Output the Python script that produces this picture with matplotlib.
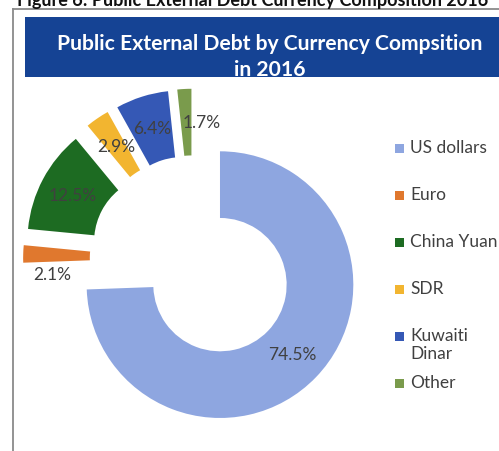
import numpy as np
import matplotlib
matplotlib.use("Agg")
import matplotlib.pyplot as plt
from matplotlib.patches import Rectangle
from matplotlib.lines import Line2D

# Currency composition of public external debt, 2016 (%)
currencies = ["US dollars", "Euro", "China Yuan", "SDR", "Kuwaiti\nDinar", "Other"]
shares = [74.5, 2.1, 12.5, 2.9, 6.4, 1.7]
share_labels = ["74.5%", "2.1%", "12.5%", "2.9%", "6.4%", "1.7%"]
colors = ["#8EA6E0", "#E0782E", "#1D6B22", "#F2B530", "#3558B5", "#7A9B4C"]

# small label nudges (data units, radius = 1)
label_nudge = [(0.0, 0.0), (-0.03, -0.14), (0.0, 0.0), (0.0, 0.0), (0.0, 0.0), (0.12, 0.0)]

W, H = 499, 452
fig = plt.figure(figsize=(W / 100, H / 100), dpi=100)
fig.patch.set_facecolor("white")

def px(x, y):
    return x / W, 1 - y / H

# caption above the chart box
fig.text(*px(17, 6), "Figure 6: Public External Debt Currency Composition 2016",
         fontsize=13, family="Lato", weight="bold", color="#111111",
         ha="left", va="baseline")

# chart frame
fig.add_artist(Line2D([13 / W, 13 / W], [0, 1 - 10 / H], color="#8a8a8a", lw=1.3,
                      transform=fig.transFigure))
fig.add_artist(Line2D([13 / W, 1], [1 - 10 / H, 1 - 10 / H], color="#8a8a8a", lw=1.3,
                      transform=fig.transFigure))

# title band
fig.add_artist(Rectangle(px(25, 78), (W - 25) / W, 60 / H, facecolor="#154394",
                         edgecolor="none", transform=fig.transFigure))
fig.text(*px(270, 44), "Public External Debt by Currency Compsition",
         fontsize=15.2, family="Lato", weight="bold", color="white",
         ha="center", va="center")
fig.text(*px(270, 70), "in 2016", fontsize=15.2, family="Lato", weight="bold",
         color="white", ha="center", va="center")

# donut axes: centre at (193, 260) px, 1 data unit = 133 px
cx, cy, side = 193.4, 260, 400
ax = fig.add_axes([(cx - side / 2) / W, (H - cy - side / 2) / H, side / W, side / H])

wedges, _ = ax.pie(shares, colors=colors, startangle=90, counterclock=False,
                   explode=[0.277] * len(shares), radius=1.0,
                   wedgeprops=dict(width=0.5, linewidth=0))
ax.set_xlim(-1.5, 1.5)
ax.set_ylim(-1.5, 1.5)
ax.set_aspect("equal")
ax.axis("off")

for w, lab, (nx, ny) in zip(wedges, share_labels, label_nudge):
    mid = np.deg2rad((w.theta1 + w.theta2) / 2)
    x0, y0 = w.center
    ax.text(x0 + 0.75 * np.cos(mid) + nx, y0 + 0.75 * np.sin(mid) + ny, lab,
            fontsize=12.5, family="Lato", color="#404040", ha="center", va="center")

# legend
for i, (name, col) in enumerate(zip(currencies, colors)):
    y = 149 + i * 47
    fig.add_artist(Rectangle(px(395, y + 4.5), 9 / W, 9 / H, facecolor=col,
                             edgecolor="none", transform=fig.transFigure))
    fig.text(*px(410, y - 9), name, fontsize=12.5, family="Lato", color="#404040",
             ha="left", va="top", linespacing=1.15)

fig.savefig("out.png", dpi=100)
